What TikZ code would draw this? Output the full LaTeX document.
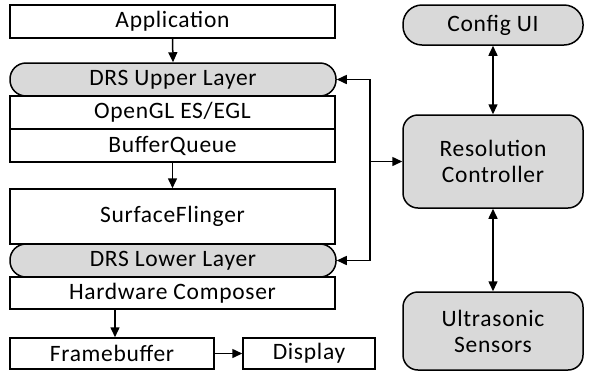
\documentclass[tikz,border=0pt]{standalone}
\usepackage{fontspec}
\setmainfont{Carlito}[LetterSpace=3]
\usetikzlibrary{arrows.meta}
\definecolor{boxgrey}{HTML}{D9D9D9}
\tikzset{
  txt/.style={font=\fontsize{23.5}{26}\selectfont},
  box/.style={draw=black, line width=1.5pt, fill=white, inner sep=0pt, minimum width=325pt, minimum height=33pt, txt},
  drs/.style={box, fill=boxgrey, rounded corners=16pt},
  rbox/.style={draw=black, line width=1.5pt, fill=boxgrey, inner sep=0pt, minimum width=180pt, rounded corners=15pt, align=center, txt},
  conn/.style={line width=1.5pt, -{Triangle[length=10pt,width=9pt]}},
  biconn/.style={line width=1.5pt, {Triangle[length=10pt,width=9pt]}-{Triangle[length=10pt,width=9pt]}}
}
\begin{document}
\begin{tikzpicture}[x=1pt,y=-1pt]
\useasboundingbox (0,0) rectangle (589,373);
\node[box] (app) at (172.5,21.5) {Application};
\node[drs, minimum width=326pt] (drsU) at (173,79.5) {DRS Upper Layer};
\node[box] (gl) at (172.5,112.5) {OpenGL ES/EGL};
\node[box] (bq) at (172.5,145.5) {BufferQueue};
\node[box, minimum height=55pt] (sf) at (172.5,216.5) {SurfaceFlinger};
\node[drs, minimum width=326pt] (drsL) at (173,260.5) {DRS Lower Layer};
\node[box, minimum height=32pt] (hc) at (172.5,293) {Hardware Composer};
\node[box, minimum width=204pt, minimum height=31pt] (fb) at (112,353.5) {Framebuffer};
\node[box, minimum width=132pt, minimum height=31pt] (disp) at (309,353.5) {Display};
\node[rbox, minimum height=40pt, rounded corners=19pt] (cfg) at (493,25) {Config UI};
\node[rbox, minimum height=93pt] (rc) at (493,161.5) {Resolution\\Controller};
\node[rbox, minimum height=78pt] (us) at (493,331) {Ultrasonic\\Sensors};
\coordinate (j) at (370,161.5);
\draw[conn] (app.south) -- (drsU.north);
\draw[conn] (bq.south) -- (sf.north);
\draw[conn] ([xshift=3pt]hc.south -| fb.north) -- ([xshift=3pt]fb.north);
\draw[conn] (fb.east) -- (disp.west);
\draw[biconn] (cfg.south) -- (rc.north);
\draw[biconn] (rc.south) -- (us.north);
\draw[conn] (j) -- (rc.west);
\draw[conn] (j) |- (drsU.east);
\draw[conn] (j) |- (drsL.east);
\end{tikzpicture}
\end{document}
